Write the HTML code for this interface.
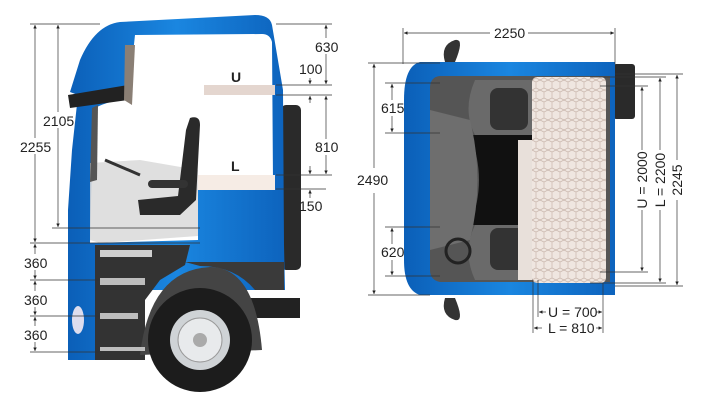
<!DOCTYPE html>
<html><head><meta charset="utf-8"><style>
html,body{margin:0;padding:0;background:#fff;width:720px;height:401px;overflow:hidden}
svg{display:block}
text{font-family:"Liberation Sans",sans-serif;font-size:14px;fill:#222}
</style></head><body>
<svg width="720" height="401" viewBox="0 0 720 401">
<defs>
<marker id="a" viewBox="0 0 6 6" refX="6" refY="3" markerWidth="5" markerHeight="5" orient="auto-start-reverse"><path d="M0,0L6,3L0,6z" fill="#222"/></marker>
<linearGradient id="bl" x1="0" y1="0" x2="1" y2="0"><stop offset="0" stop-color="#0b5fb8"/><stop offset="0.5" stop-color="#1a86e0"/><stop offset="1" stop-color="#0d63bd"/></linearGradient>
<pattern id="hx" width="8" height="10" patternUnits="userSpaceOnUse"><rect width="8" height="10" fill="#efe6e0"/><path d="M0,2L4,0L8,2L8,8L4,10L0,8z" fill="none" stroke="#c9b6ac" stroke-width="0.7"/></pattern>
</defs>
<!-- LEFT: side view -->
<rect x="240" y="298" width="60" height="20" fill="#222"/>
<rect x="281" y="105" width="20" height="165" rx="5" fill="#2a2a2a"/>
<path d="M68,360 L68,210 L72,150 L78,95 L70,92 L80,60 Q95,25 120,22 L255,15 Q270,15 272,25 L283,90 L284,245 L285,290 L145,290 L145,360 Z" fill="url(#bl)"/>
<path d="M135,35 L262,34 Q270,34 272,42 L273,183 Q273,190 266,190 L198,190 L198,240 L90,243 L92,160 L95,108 Q110,100 128,100 Z" fill="#fff"/>
<path d="M90,163 L140,160 L198,170 L198,236 L100,243 L90,240 Z" fill="#d9d9d9" opacity="0.85"/>
<path d="M92,108 L98,105 L97,180 L90,182Z" fill="#555"/>
<path d="M190,118 Q200,115 200,125 L196,200 L180,215 L140,215 L138,200 L178,196 L186,130Z" fill="#2a2a2a"/>
<rect x="148" y="180" width="40" height="8" rx="4" fill="#333"/>
<path d="M105,160 L140,175" stroke="#333" stroke-width="3"/>
<path d="M68,95 L128,85 L128,100 L70,108Z" fill="#222"/>
<path d="M125,45 L135,45 L132,105 L124,100Z" fill="#8a7f75"/>
<!-- lower cab -->
<path d="M95,245 L190,245 L185,265 L160,280 L145,300 L145,360 L95,360 Z" fill="#333"/>
<path d="M185,262 L284,262 L284,290 L255,290 Q235,266 200,266 Z" fill="#3a3a3a"/>
<path d="M140,355 Q150,270 210,267 Q255,267 262,350Z" fill="#444"/>
<circle cx="200" cy="340" r="52" fill="#1c1c1c"/>
<circle cx="200" cy="340" r="30" fill="#cfd3d6"/>
<circle cx="200" cy="340" r="22" fill="#e8eaec" stroke="#999" stroke-width="1"/>
<circle cx="200" cy="340" r="7" fill="#aaa"/>
<rect x="100" y="250" width="52" height="7" fill="#cfcfcf"/>
<rect x="100" y="278" width="45" height="7" fill="#bdbdbd"/>
<rect x="100" y="313" width="38" height="6" fill="#bdbdbd"/>
<rect x="100" y="347" width="45" height="4" fill="#bdbdbd"/>
<ellipse cx="78" cy="320" rx="6" ry="14" fill="#dde"/>
<rect x="204" y="85" width="71" height="10" fill="#e4d6cf"/>
<rect x="198" y="175" width="77" height="15" fill="#f6ece5"/>
<text x="231" y="82" style="font-weight:bold">U</text>
<text x="231" y="171" style="font-weight:bold">L</text>
<g stroke="#333" stroke-width="0.7" fill="none">
<line x1="30" y1="24" x2="100" y2="24"/>
<line x1="52" y1="228" x2="200" y2="228"/>
<line x1="30" y1="243" x2="200" y2="243"/>
<line x1="30" y1="280" x2="100" y2="280"/>
<line x1="30" y1="316" x2="100" y2="316"/>
<line x1="30" y1="352" x2="100" y2="352"/>
<line x1="35" y1="25" x2="35" y2="242" marker-start="url(#a)" marker-end="url(#a)"/>
<line x1="58" y1="25" x2="58" y2="227" marker-start="url(#a)" marker-end="url(#a)"/>
<line x1="35" y1="244" x2="35" y2="279" marker-start="url(#a)" marker-end="url(#a)"/>
<line x1="35" y1="281" x2="35" y2="315" marker-start="url(#a)" marker-end="url(#a)"/>
<line x1="35" y1="317" x2="35" y2="351" marker-start="url(#a)" marker-end="url(#a)"/>
<line x1="276" y1="24" x2="332" y2="24"/>
<line x1="276" y1="85" x2="332" y2="85"/>
<line x1="276" y1="95" x2="332" y2="95"/>
<line x1="276" y1="175" x2="332" y2="175"/>
<line x1="276" y1="189" x2="326" y2="189"/>
<line x1="326" y1="25" x2="326" y2="84" marker-start="url(#a)" marker-end="url(#a)"/>
<line x1="310" y1="78" x2="310" y2="84" marker-end="url(#a)"/>
<line x1="310" y1="96" x2="310" y2="103" marker-start="url(#a)"/>
<line x1="326" y1="96" x2="326" y2="174" marker-start="url(#a)" marker-end="url(#a)"/>
<line x1="310" y1="166" x2="310" y2="174" marker-end="url(#a)"/>
<line x1="310" y1="190" x2="310" y2="198" marker-start="url(#a)"/>
</g>
<g fill="#fff"><rect x="20" y="138" width="32" height="16"/><rect x="43" y="112" width="30" height="16"/><rect x="22" y="254" width="28" height="16"/><rect x="22" y="291" width="28" height="16"/><rect x="22" y="326" width="28" height="16"/><rect x="314" y="38" width="26" height="16"/><rect x="314" y="139" width="26" height="16"/></g>
<text x="20" y="152">2255</text><text x="43" y="126">2105</text>
<text x="24" y="268">360</text><text x="24" y="305">360</text><text x="24" y="340">360</text>
<text x="315" y="52">630</text><text x="299" y="74">100</text><text x="315" y="152">810</text><text x="299" y="211">150</text>

<!-- RIGHT: top view -->
<path d="M455,40 Q465,38 455,62 L445,62 Q440,45 455,40Z" fill="#333"/>
<path d="M455,320 Q465,322 455,298 L445,298 Q440,315 455,320Z" fill="#333"/>
<rect x="613" y="64" width="22" height="55" rx="3" fill="#2a2a2a"/>
<path d="M420,62 L615,62 L615,295 L420,295 Q404,290 404,260 L404,100 Q404,66 420,62Z" fill="url(#bl)"/>
<path d="M440,76 L610,76 L610,282 L440,282 Q430,280 430,270 L430,88 Q430,77 440,76Z" fill="#555"/>
<path d="M475,80 L535,80 L535,135 L475,135 Q462,110 475,80Z" fill="#6a6a6a"/>
<path d="M475,225 L535,225 L535,280 L475,280 Q462,252 475,225Z" fill="#6a6a6a"/>
<rect x="490" y="88" width="38" height="42" rx="8" fill="#333"/>
<rect x="490" y="228" width="38" height="42" rx="8" fill="#333"/>
<path d="M470,135 L535,135 L535,225 L470,225 Q488,180 470,135Z" fill="#111"/>
<path d="M430,110 L470,120 Q485,180 470,240 L430,250Z" fill="#6e6e6e"/>
<circle cx="458" cy="251" r="12" fill="none" stroke="#222" stroke-width="3"/>
<rect x="532" y="77" width="74" height="206" rx="5" fill="url(#hx)"/>
<rect x="518" y="140" width="14" height="140" fill="#e8e0da"/>
<g stroke="#333" stroke-width="0.7" fill="none">
<line x1="403" y1="28" x2="403" y2="64"/><line x1="615" y1="28" x2="615" y2="64"/>
<line x1="404" y1="33" x2="490" y2="33" marker-start="url(#a)"/><line x1="528" y1="33" x2="614" y2="33" marker-end="url(#a)"/>
<line x1="368" y1="63" x2="440" y2="63"/><line x1="368" y1="295" x2="430" y2="295"/>
<line x1="374" y1="64" x2="374" y2="168" marker-start="url(#a)"/><line x1="374" y1="193" x2="374" y2="294" marker-end="url(#a)"/>
<line x1="385" y1="83" x2="440" y2="83"/><line x1="385" y1="133" x2="440" y2="133"/>
<line x1="392" y1="84" x2="392" y2="100" marker-start="url(#a)"/><line x1="392" y1="116" x2="392" y2="132" marker-end="url(#a)"/>
<line x1="385" y1="227" x2="440" y2="227"/><line x1="385" y1="276" x2="440" y2="276"/>
<line x1="392" y1="228" x2="392" y2="244" marker-start="url(#a)"/><line x1="392" y1="260" x2="392" y2="275" marker-end="url(#a)"/>
<line x1="600" y1="86" x2="648" y2="86"/><line x1="600" y1="272" x2="648" y2="272"/>
<line x1="590" y1="77" x2="666" y2="77"/><line x1="590" y1="283" x2="666" y2="283"/>
<line x1="615" y1="74" x2="683" y2="74"/><line x1="615" y1="286" x2="683" y2="286"/>
<line x1="642" y1="87" x2="642" y2="150" marker-start="url(#a)"/><line x1="642" y1="210" x2="642" y2="271" marker-end="url(#a)"/>
<line x1="660" y1="78" x2="660" y2="150" marker-start="url(#a)"/><line x1="660" y1="210" x2="660" y2="282" marker-end="url(#a)"/>
<line x1="677" y1="75" x2="677" y2="160" marker-start="url(#a)"/><line x1="677" y1="200" x2="677" y2="285" marker-end="url(#a)"/>
<line x1="538" y1="280" x2="538" y2="317"/><line x1="533" y1="280" x2="533" y2="333"/><line x1="603" y1="283" x2="603" y2="333"/>
<line x1="539" y1="312" x2="546" y2="312" marker-start="url(#a)"/><line x1="596" y1="312" x2="602" y2="312" marker-end="url(#a)"/>
<line x1="534" y1="328" x2="542" y2="328" marker-start="url(#a)"/><line x1="596" y1="328" x2="602" y2="328" marker-end="url(#a)"/>
</g>
<text x="494" y="38">2250</text>
<text x="357" y="185">2490</text>
<text x="381" y="113">615</text><text x="381" y="257">620</text>
<text x="548" y="317">U = 700</text><text x="548" y="333">L = 810</text>
<text transform="translate(647,180) rotate(-90)" text-anchor="middle">U = 2000</text>
<text transform="translate(665,180) rotate(-90)" text-anchor="middle">L = 2200</text>
<text transform="translate(682,180) rotate(-90)" text-anchor="middle">2245</text>
</svg>
</body></html>
